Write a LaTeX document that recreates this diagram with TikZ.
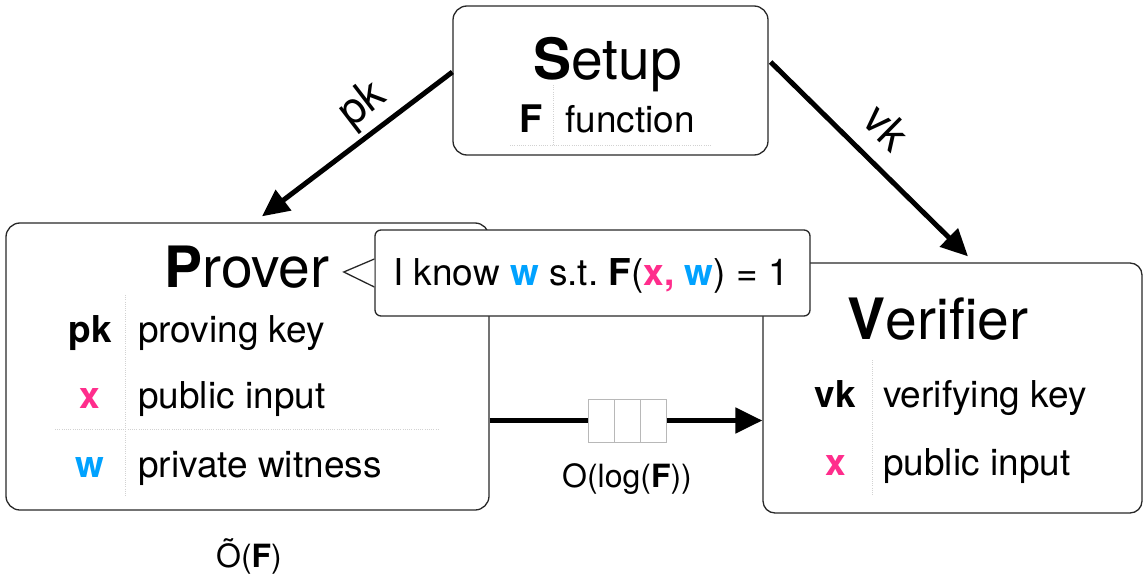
\documentclass[tikz,border=0pt]{standalone}
\usepackage{fontspec}
\setmainfont{TeX Gyre Heros}
\usetikzlibrary{arrows.meta}
\definecolor{pubpink}{RGB}{255,45,140}
\definecolor{privblue}{RGB}{0,162,255}
\definecolor{frame}{RGB}{40,40,40}
\definecolor{rulegray}{RGB}{210,210,210}
\newcommand{\setfs}[1]{\fontsize{#1}{#1}\selectfont}
\frenchspacing
\begin{document}
\begin{tikzpicture}[x=1pt,y=-1pt,
  panel/.style={draw=frame, line width=1.3pt, rounded corners=14pt, fill=white, inner sep=0pt},
  title/.style={anchor=base, inner sep=0pt, font=\setfs{57}},
  keycol/.style={anchor=base, inner sep=0pt, font=\setfs{37}\bfseries},
  valcol/.style={anchor=base west, inner sep=0pt, font=\setfs{37}},
  sep/.style={draw=rulegray, line width=0.9pt, dash pattern=on 1pt off 1.2pt},
  flow/.style={line width=5pt, -{Triangle[length=27pt,width=25pt]}},
  note/.style={anchor=base, inner sep=0pt, font=\setfs{32}},
  keylabel/.style={inner sep=0pt, font=\setfs{44}},
  cell/.style={draw=black!28, fill=white, line width=1pt, minimum width=25.7pt, minimum height=43pt, inner sep=0pt},
]
\useasboundingbox (0,0) rectangle (1143,578);

% three parties
\node[panel, minimum width=315pt, minimum height=149pt] (setup) at (610.5,80.5) {};
\node[panel, minimum width=483pt, minimum height=287pt] (prover) at (247.5,366.5) {};
\node[panel, rounded corners=12pt, minimum width=379pt, minimum height=250pt] (verifier) at (952.5,388) {};

% Setup contents
\node[title] (setupT) at (608,80) {\textbf{S}etup};
\node[keycol, font=\setfs{38}\bfseries] (fkey) at (531.5,132) {F};
\node[valcol] (fval) at (565,132) {function};
\draw[sep] (553,85) -- (553,145);
\draw[sep] (510,145) -- (712,145);

% Prover contents
\node[title] (proverT) at (247,287) {\textbf{P}rover};
\node[keycol] (pkkey) at (90,342) {pk};
\node[valcol] (pkval) at (138,342) {proving key};
\node[keycol, text=pubpink] (xkeyP) at (90,408) {x};
\node[valcol] (xvalP) at (138,408) {public input};
\node[keycol, text=privblue] (wkey) at (90,477) {w};
\node[valcol] (wval) at (138,477) {private witness};
\draw[sep] (125,295) -- (125,497);
\draw[sep] (55,429) -- (440,429);

% Verifier contents
\node[title] (verifierT) at (938,339) {\textbf{V}erifier};
\node[keycol] (vkkey) at (835.5,407) {vk};
\node[valcol] (vkval) at (883,407) {verifying key};
\node[keycol, text=pubpink] (xkeyV) at (835.5,475) {x};
\node[valcol] (xvalV) at (883,475) {public input};
\draw[sep] (872,360) -- (872,495);

% key distribution
\draw[flow] ([yshift=8.5pt]setup.west) -- ([xshift=14.5pt,yshift=6pt]prover.north);
\draw[flow] ([xshift=2pt,yshift=18.5pt]setup.east) -- ([xshift=15.5pt,yshift=6pt]verifier.north);
\node[keylabel, rotate=37.5] (pklbl) at (363,105) {pk};
\node[keylabel, rotate=-44.6] (vklbl) at (887,127) {vk};

% proof message
\node[cell] (q1) at (601.8,420.5) {};
\node[cell] (q2) at (627.5,420.5) {};
\node[cell] (q3) at (653.2,420.5) {};
\draw[line width=5pt] (prover.east |- q1.west) -- (q1.west);
\draw[flow] (q3.east) -- (verifier.west |- q3.east);
\node[note] (size) at (627,487) {O(log(\textbf{F}))};
\node[note] (cost) at (249,567) {Õ(\textbf{F})};

% speech bubble of the prover
\node[draw=frame, line width=1.3pt, rounded corners=6pt, fill=white, minimum width=435pt, minimum height=86pt, inner sep=0pt] (bubble) at (592.5,273) {};
\filldraw[draw=frame, fill=white, line width=1.3pt, line join=miter]
  ([yshift=14pt]bubble.west) -- ([xshift=-30.6pt,yshift=1pt]bubble.west) -- ([yshift=-14pt]bubble.west);
\node[anchor=base west, inner sep=0pt, font=\setfs{37}] (claim) at (393,285)
  {I know \textbf{\color{privblue}w} s.t. \textbf{F}(\textbf{\color{pubpink}x,} \textbf{\color{privblue}w}) = 1};
\end{tikzpicture}
\end{document}
